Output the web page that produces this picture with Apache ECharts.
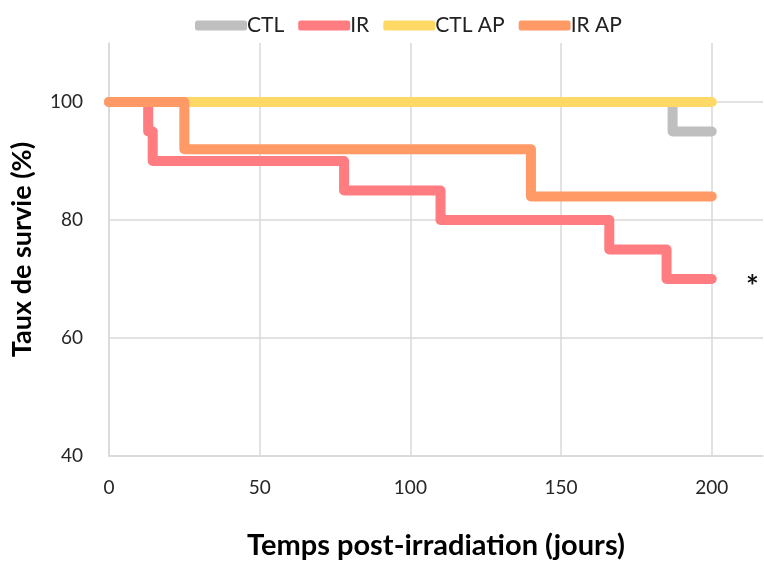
<!DOCTYPE html>
<html>
<head>
<meta charset="utf-8">
<script src="https://cdn.jsdelivr.net/npm/echarts@6/dist/echarts.min.js"></script>
<style>html,body{margin:0;padding:0;background:#fff}#c{width:764px;height:565px}</style>
</head>
<body>
<div id="c"></div>
<script>
var seriesNames = ['CTL', 'IR', 'CTL AP', 'IR AP'];
var ctlX = [0, 187, 200];
var ctlY = [100, 95, 95];
var irX = [0, 13, 14.5, 78, 110, 166, 185, 200];
var irY = [100, 95, 90, 85, 80, 75, 70, 70];
var ctlApX = [0, 200];
var ctlApY = [100, 100];
var irApX = [0, 25, 140, 200];
var irApY = [100, 92, 84, 84];
var xTicks = [0, 50, 100, 150, 200];
var yTicks = [40, 60, 80, 100];
var colors = ['#BFBFBF', '#FF7C80', '#FFD966', '#FF9966'];

function pairs(xs, ys) { return xs.map(function (x, i) { return [x, ys[i]]; }); }
var allData = [pairs(ctlX, ctlY), pairs(irX, irY), pairs(ctlApX, ctlApY), pairs(irApX, irApY)];

var font = 'Lato, "Open Sans", sans-serif';
var chart = echarts.init(document.getElementById('c'));
chart.setOption({
  animation: false,
  textStyle: { fontFamily: font },
  legend: {
    left: 190, top: 10,
    icon: 'roundRect', itemWidth: 52, itemHeight: 10, itemGap: 14,
    textStyle: { fontSize: 21, color: '#222', fontFamily: font, padding: [0, 0, 0, -5] },
    data: seriesNames
  },
  grid: { left: 109, top: 43, bottom: 106, right: 1 },
  xAxis: {
    type: 'value', min: 0, max: 217, interval: 50,
    axisLine: { show: true, lineStyle: { color: '#D9D9D9', width: 1.5 } },
    axisTick: { show: false },
    splitLine: { show: true, showMaxLine: false, lineStyle: { color: '#D9D9D9', width: 1.5 } },
    axisLabel: {
      fontSize: 19, color: '#262626', margin: 22, showMaxLabel: false,
      formatter: function (v) { return xTicks.indexOf(v) >= 0 ? String(v) : ''; }
    },
    name: 'Temps post-irradiation (jours)', nameLocation: 'middle', nameGap: 75,
    nameTextStyle: { fontSize: 29, fontWeight: 'bold', color: '#000' }
  },
  yAxis: {
    type: 'value', min: 40, max: 110, interval: 20,
    axisLine: { show: true, lineStyle: { color: '#D9D9D9', width: 1.5 } },
    axisTick: { show: false },
    splitLine: { show: true, showMaxLine: false, lineStyle: { color: '#D9D9D9', width: 1.5 } },
    axisLabel: {
      fontSize: 19, color: '#262626', margin: 26, showMaxLabel: false,
      formatter: function (v) { return yTicks.indexOf(v) >= 0 ? String(v) : ''; }
    },
    name: 'Taux de survie (%)', nameLocation: 'middle', nameGap: 73,
    nameTextStyle: { fontSize: 27, fontWeight: 'bold', color: '#000' }
  },
  series: seriesNames.map(function (n, i) {
    return {
      name: n, type: 'line', step: 'end', showSymbol: false, symbol: 'none',
      data: allData[i], color: colors[i],
      lineStyle: { width: 10, color: colors[i], cap: 'round', join: 'round' },
      z: 2 + i
    };
  }),
  graphic: [{
    type: 'text', left: 746, top: 272,
    style: { text: '*', fontSize: 30, fontWeight: 'bold', fill: '#111', fontFamily: font }
  }]
});
</script>
</body>
</html>
